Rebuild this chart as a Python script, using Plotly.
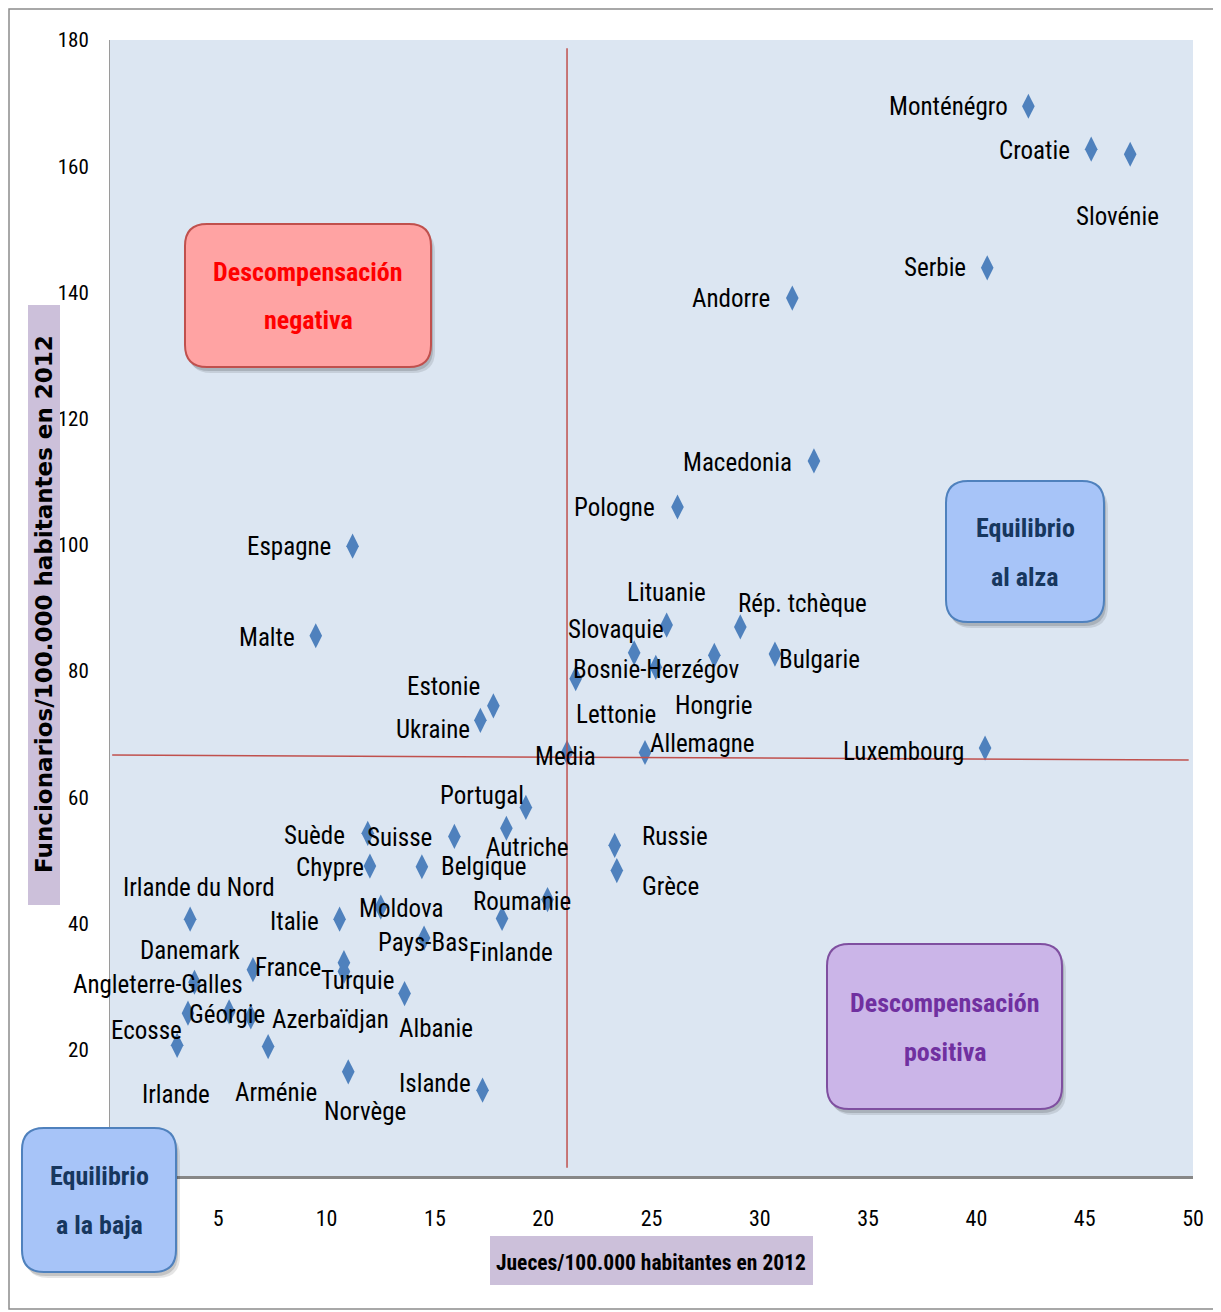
import plotly.graph_objects as go

# --- data -------------------------------------------------------------------
countries = [
    "Monténégro", "Croatie", "Slovénie", "Serbie", "Andorre", "Macedonia",
    "Pologne", "Espagne", "Malte", "Lituanie", "Rép. tchèque", "Slovaquie",
    "Bosnie-Herzégov", "Hongrie", "Lettonie", "Bulgarie", "Estonie", "Ukraine",
    "Media", "Allemagne", "Luxembourg", "Portugal", "Suède", "Suisse",
    "Autriche", "Chypre", "Belgique", "Russie", "Grèce", "Roumanie",
    "Irlande du Nord", "Italie", "Moldova", "Finlande", "Pays-Bas", "Danemark",
    "France", "Turquie", "Angleterre-Galles", "Albanie", "Ecosse", "Géorgie",
    "Azerbaïdjan", "Irlande", "Arménie", "Norvège", "Islande",
]
judges = [
    42.4, 45.3, 47.1, 40.5, 31.5, 32.5,
    26.2, 11.2, 9.5, 25.7, 29.1, 24.2,
    25.2, 27.9, 21.5, 30.7, 17.7, 17.1,
    21.1, 24.7, 40.4, 19.2, 11.9, 15.9,
    18.3, 12.0, 14.4, 23.3, 23.4, 20.2,
    3.7, 10.6, 12.5, 18.1, 14.5, 6.6,
    10.8, 10.8, 3.9, 13.6, 3.6, 5.5,
    6.5, 3.1, 7.3, 11.0, 17.2,
]
officials = [
    169.5, 162.7, 161.9, 143.9, 139.1, 113.3,
    106.0, 99.8, 85.6, 87.3, 87.0, 82.9,
    80.6, 82.5, 78.8, 82.7, 74.5, 72.2,
    67.1, 67.1, 67.8, 58.4, 54.3, 53.8,
    55.1, 49.1, 49.0, 52.4, 48.4, 43.8,
    40.7, 40.7, 42.6, 40.8, 37.7, 32.7,
    33.8, 32.4, 30.7, 28.9, 25.8, 26.0,
    25.2, 20.7, 20.5, 16.5, 13.6,
]
x_ticks = [5, 10, 15, 20, 25, 30, 35, 40, 45, 50]
y_ticks = [20, 40, 60, 80, 100, 120, 140, 160, 180]

# label placement: anchor, x offset px, y offset px (up positive)
label_pos = {
    "Monténégro": ("right", -18, 0), "Croatie": ("right", -19, -1),
    "Slovénie": ("center", -13, -62), "Serbie": ("right", -19, 0),
    "Andorre": ("right", -20, 0), "Macedonia": ("right", -20, -2),
    "Pologne": ("right", -20, 0), "Espagne": ("right", -20, 0),
    "Malte": ("right", -19, -2), "Lituanie": ("center", 0, 33),
    "Rép. tchèque": ("left", -4, 23), "Slovaquie": ("center", -18, 23),
    "Bosnie-Herzégov": ("center", 0, -2), "Hongrie": ("center", 0, -50),
    "Lettonie": ("center", 40, -36), "Bulgarie": ("left", 2, -5),
    "Estonie": ("right", -11, 19), "Ukraine": ("right", -8, -9),
    "Media": ("center", -2, -4), "Allemagne": ("left", 3, 9),
    "Luxembourg": ("right", -19, -3), "Portugal": ("right", 0, 12),
    "Suède": ("right", -21, -2), "Suisse": ("right", -20, -1),
    "Autriche": ("center", 21, -19), "Chypre": ("right", -4, -1),
    "Belgique": ("left", 17, 0), "Russie": ("left", 25, 9),
    "Grèce": ("left", 23, -16), "Roumanie": ("center", -26, -2),
    "Irlande du Nord": ("center", 9, 32), "Italie": ("right", -19, -2),
    "Moldova": ("center", 20, -1), "Finlande": ("center", 9, -34),
    "Pays-Bas": ("center", -1, -4), "Danemark": ("right", -11, 19),
    "France": ("right", -21, -5), "Turquie": ("center", 14, -9),
    "Angleterre-Galles": ("center", -36, -2), "Albanie": ("center", 31, -35),
    "Ecosse": ("right", -4, -17), "Géorgie": ("center", -2, -3),
    "Azerbaïdjan": ("left", 19, -3), "Irlande": ("center", -1, -49),
    "Arménie": ("center", 8, -46), "Norvège": ("center", 17, -40),
    "Islande": ("right", -10, 7),
}

# --- layout geometry ---------------------------------------------------------
# page has an 8px body margin, so the figure is shifted by that much
OFF = 8
W, H = 1221 - OFF, 1312 - OFF
ML, MR, MT, MB = 110 - OFF, 28, 40 - OFF, 136
PW, PH = W - ML - MR, H - MT - MB

NARROW = ("Roboto Condensed, Noto Sans Condensed, Open Sans Condensed, "
          "Liberation Sans Narrow, Lato, sans-serif")


def px(x):
    # page pixel -> paper x
    return (x - OFF - ML) / PW


def py(y):
    # page pixel -> paper y
    return (H - MB - (y - OFF)) / PH


def rounded_path(x0, y0, x1, y1, r):
    X = lambda v: f"{px(v):.5f}"
    Y = lambda v: f"{py(v):.5f}"
    return " ".join([
        f"M {X(x0 + r)},{Y(y0)}",
        f"L {X(x1 - r)},{Y(y0)}",
        f"Q {X(x1)},{Y(y0)} {X(x1)},{Y(y0 + r)}",
        f"L {X(x1)},{Y(y1 - r)}",
        f"Q {X(x1)},{Y(y1)} {X(x1 - r)},{Y(y1)}",
        f"L {X(x0 + r)},{Y(y1)}",
        f"Q {X(x0)},{Y(y1)} {X(x0)},{Y(y1 - r)}",
        f"L {X(x0)},{Y(y0 + r)}",
        f"Q {X(x0)},{Y(y0)} {X(x0 + r)},{Y(y0)}",
        "Z",
    ])


fig = go.Figure()

fig.add_trace(
    go.Scatter(
        x=judges, y=officials,
        mode="markers",
        marker=dict(symbol="diamond-tall", size=18, color="#4F81BD"),
        text=countries,
        hovertemplate="%{text}: %{x}, %{y}<extra></extra>",
        showlegend=False,
    )
)

for name, xv, yv in zip(countries, judges, officials):
    anchor, dx, dy = label_pos[name]
    fig.add_annotation(
        x=xv, y=yv, text=name,
        xanchor=anchor, yanchor="middle",
        xshift=dx, yshift=dy,
        showarrow=False,
        font=dict(family=NARROW, size=25, color="#000000"),
    )

# mean lines through "Media"
mx = judges[countries.index("Media")]
my = officials[countries.index("Media")]
fig.add_shape(type="line", x0=mx, x1=mx, y0=1.3, y1=178.7,
              line=dict(color="#C0504D", width=1.5))
fig.add_shape(type="line", x0=0.1, x1=49.8, y0=my - 0.4, y1=my - 1.2,
              line=dict(color="#C0504D", width=1.5))

# outer frame
fig.add_shape(type="rect", xref="paper", yref="paper",
              x0=px(9), x1=px(1219), y0=py(9), y1=py(1309),
              line=dict(color="#8C8C8C", width=1.5), layer="below")

# quadrant boxes
boxes = [
    ((185, 224, 431, 367), "#FFA3A3", "#C0504D", "#FF0000",
     ["Descompensación", "negativa"]),
    ((946, 481, 1104, 622), "#A7C4F8", "#4F81BD", "#17375E",
     ["Equilibrio", "al alza"]),
    ((827, 944, 1062, 1109), "#CBB5E8", "#7F4FA0", "#7030A0",
     ["Descompensación", "positiva"]),
    ((22, 1128, 176, 1272), "#A7C4F8", "#4F81BD", "#17375E",
     ["Equilibrio", "a la baja"]),
]
for (x0, y0, x1, y1), fill, edge, tcol, lines in boxes:
    for off, alpha in ((6, 0.10), (4, 0.14)):
        fig.add_shape(type="path", xref="paper", yref="paper",
                      path=rounded_path(x0 + off - 2, y0 + off, x1 + off - 2, y1 + off, 22),
                      fillcolor=f"rgba(0,0,0,{alpha})", line=dict(width=0),
                      layer="above")
    fig.add_shape(type="path", xref="paper", yref="paper",
                  path=rounded_path(x0, y0, x1, y1, 22),
                  fillcolor=fill, line=dict(color=edge, width=2),
                  layer="above")
    cx = (x0 + x1) / 2
    cy = (y0 + y1) / 2
    for i, t in enumerate(lines):
        fig.add_annotation(
            x=px(cx), y=py(cy - 24 + 49 * i), xref="paper", yref="paper",
            text=f"<b>{t}</b>", showarrow=False,
            xanchor="center", yanchor="middle",
            font=dict(family=NARROW, size=26, color=tcol),
        )

# axis titles on lavender boxes
fig.add_shape(type="rect", xref="paper", yref="paper",
              x0=px(28), x1=px(60), y0=py(305), y1=py(905),
              fillcolor="#CCC0DA", line=dict(width=0), layer="above")
fig.add_annotation(
    x=px(44), y=py(604), xref="paper", yref="paper",
    xanchor="center", yanchor="middle",
    text="<b>Funcionarios/100.000 habitantes en 2012</b>",
    textangle=-90, showarrow=False,
    font=dict(family="DejaVu Sans, Verdana, sans-serif", size=23, color="#000000"),
)
fig.add_shape(type="rect", xref="paper", yref="paper",
              x0=px(490), x1=px(813), y0=py(1236), y1=py(1285),
              fillcolor="#CCC0DA", line=dict(width=0), layer="above")
fig.add_annotation(
    x=px(651), y=py(1262), xref="paper", yref="paper",
    xanchor="center", yanchor="middle",
    text="<b>Jueces/100.000 habitantes en 2012</b>",
    showarrow=False,
    font=dict(family=NARROW, size=21.5, color="#000000"),
)

fig.update_xaxes(
    range=[0, 50], tickvals=x_ticks,
    showgrid=False, zeroline=False,
    showline=True, linecolor="#878787", linewidth=3,
    ticks="", ticklabelstandoff=21,
    tickfont=dict(family=NARROW, size=22, color="#000000"),
)
fig.update_yaxes(
    range=[0, 180], tickvals=y_ticks,
    showgrid=False, zeroline=False,
    showline=True, linecolor="#9A9A9A", linewidth=1,
    ticks="", ticklabelstandoff=16,
    tickfont=dict(family=NARROW, size=21, color="#000000"),
)

fig.update_layout(
    width=W, height=H,
    margin=dict(l=ML, r=MR, t=MT, b=MB),
    paper_bgcolor="#FFFFFF",
    plot_bgcolor="#DCE6F2",
    showlegend=False,
)

fig.write_html("out.html")
